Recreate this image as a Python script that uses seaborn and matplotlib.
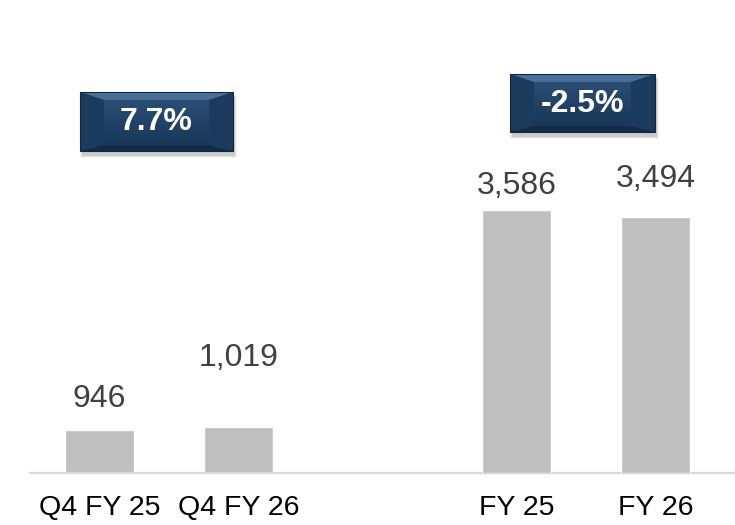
import numpy as np
import pandas as pd
import matplotlib
matplotlib.use("Agg")
import matplotlib.pyplot as plt
import seaborn as sns
from matplotlib.patches import Polygon, Rectangle
from matplotlib.colors import LinearSegmentedColormap

# Data
periods = ["Q4 FY 25", "Q4 FY 26", "FY 25", "FY 26"]
groups = ["quarter", "quarter", "year", "year"]
values = [946, 1019, 3586, 3494]
growth_labels = ["7.7%", "-2.5%"]

# empty slot separates the quarter pair from the full-year pair
order = ["Q4 FY 25", "Q4 FY 26", " ", "FY 25", "FY 26"]

df = pd.DataFrame({"period": periods, "group": groups, "value": values})

sns.set_theme(style="white")
plt.rcParams["font.family"] = ["Liberation Sans", "DejaVu Sans"]

W, H = 735, 525
fig = plt.figure(figsize=(W / 100, H / 100), dpi=100, facecolor="white")

# axes spans from x=30px to right edge, baseline at y=473px
rect = [30 / W, (H - 473) / H, (W - 30) / W, 473 / H]
ax_q = fig.add_axes(rect)
ax_y = fig.add_axes(rect, facecolor="none")

# the source slide draws the two groups on separate scales
ylims = {"quarter": 10460, "year": 6444}
label_pad = {"Q4 FY 25": 12, "Q4 FY 26": 39, "FY 25": 6, "FY 26": 16}

for ax, grp in [(ax_q, "quarter"), (ax_y, "year")]:
    sub = df[df["group"] == grp]
    sns.barplot(data=sub, x="period", y="value", order=order, ax=ax,
                color="#BFBFBF", width=0.5, saturation=1, errorbar=None)
    ax.set_xlim(-0.5, 4.572)
    ax.set_ylim(0, ylims[grp])
    for patch in ax.patches:
        h = patch.get_height()
        if np.isnan(h) or h == 0:
            continue
        cx = patch.get_x() + patch.get_width() / 2
        name = order[int(round(cx))]
        ax.annotate(f"{int(h):,}", (cx, h), xytext=(0, label_pad[name]),
                    textcoords="offset points", ha="center", va="bottom",
                    fontsize=23, color="#404040")
    ax.set_xlabel("")
    ax.set_ylabel("")
    ax.set_yticks([])

ax_y.axis("off")
ax_q.tick_params(axis="x", length=0, pad=16, labelsize=20.5, labelcolor="black")
sns.despine(ax=ax_q, left=True, top=True, right=True)
ax_q.spines["bottom"].set_color("#D9D9D9")
ax_q.spines["bottom"].set_linewidth(1.6)

# overlay in pixel coordinates for the growth badges
ov = fig.add_axes([0, 0, 1, 1], facecolor="none")
ov.set_zorder(5)
face_cmap = LinearSegmentedColormap.from_list("badge", ["#2D5279", "#163455"])


def draw_badge(x0, y0, x1, y1, text):
    for i, a in enumerate([0.10, 0.07, 0.04]):
        ov.add_patch(Rectangle((x0 + 2 - i, y0 + 5 - i), (x1 - x0) + 2 * i,
                               (y1 - y0) + 2 * i, color="black", alpha=a,
                               lw=0, zorder=1))
    grad = np.linspace(0, 1, 60)[:, None]
    ov.imshow(grad, extent=(x0, x1, y1, y0), cmap=face_cmap, aspect="auto",
              zorder=2)
    bx, bt, bb = 24, 8, 6
    ix0, ix1, iy0, iy1 = x0 + bx, x1 - bx, y0 + bt, y1 - bb
    ov.add_patch(Polygon([(x0, y0), (x1, y0), (ix1, iy0), (ix0, iy0)],
                         color="#4A6E95", lw=0, zorder=3))
    ov.add_patch(Polygon([(x0, y1), (x1, y1), (ix1, iy1), (ix0, iy1)],
                         color="#132C48", lw=0, zorder=3))
    ov.add_patch(Polygon([(x0, y0), (ix0, iy0), (ix0, iy1), (x0, y1)],
                         color="#1B3B5E", lw=0, zorder=3))
    ov.add_patch(Polygon([(x1, y0), (ix1, iy0), (ix1, iy1), (x1, y1)],
                         color="#1B3B5E", lw=0, zorder=3))
    ov.add_patch(Rectangle((x0, y0), x1 - x0, y1 - y0, fill=False,
                           ec="#0F2740", lw=0.8, zorder=4))
    ov.text((x0 + x1) / 2, (y0 + y1) / 2 + 1, text, ha="center",
            va="center", fontsize=23, fontweight="bold", color="white",
            zorder=5)


draw_badge(80, 92, 233, 151, growth_labels[0])
draw_badge(510, 74, 655, 132, growth_labels[1])

ov.set_xlim(0, W)
ov.set_ylim(H, 0)
ov.axis("off")

fig.savefig("out.png", dpi=100, facecolor="white")
